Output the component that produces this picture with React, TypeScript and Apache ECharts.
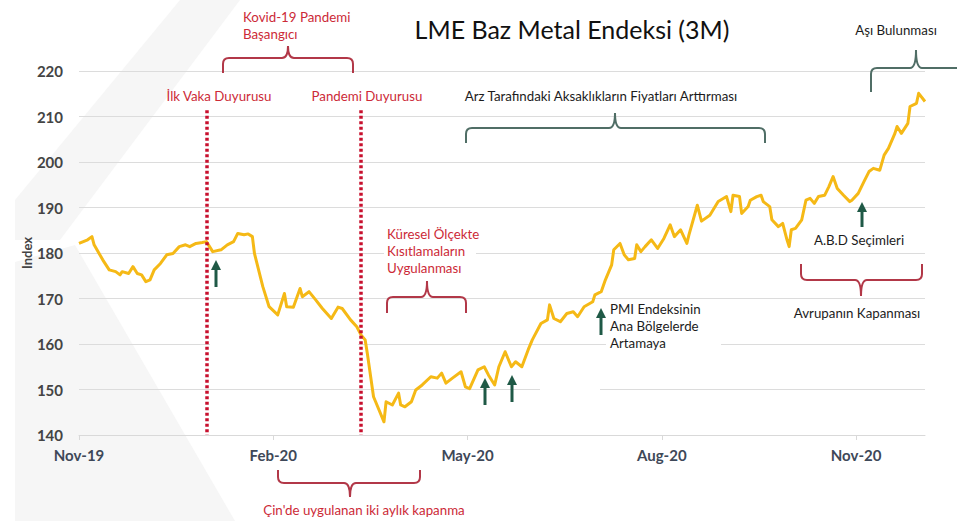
import React, { useEffect, useRef } from "react";
import * as echarts from "echarts";

// ---- Data ----
const dates: string[] = [
  "2019-11-01","2019-11-05","2019-11-07","2019-11-08","2019-11-12","2019-11-15","2019-11-18","2019-11-20","2019-11-21","2019-11-24","2019-11-26","2019-11-28","2019-11-30",
  "2019-12-02","2019-12-04","2019-12-06","2019-12-09","2019-12-12","2019-12-15","2019-12-18","2019-12-21","2019-12-23","2019-12-26","2019-12-29","2019-12-31",
  "2020-01-03","2020-01-07","2020-01-10","2020-01-13","2020-01-15","2020-01-18","2020-01-20","2020-01-22","2020-01-23","2020-01-26","2020-01-27","2020-01-30",
  "2020-02-03","2020-02-06","2020-02-07","2020-02-10","2020-02-13","2020-02-14","2020-02-17","2020-02-20","2020-02-23","2020-02-27",
  "2020-03-01","2020-03-03","2020-03-07","2020-03-10","2020-03-12","2020-03-14","2020-03-15","2020-03-18","2020-03-19","2020-03-23","2020-03-24","2020-03-27","2020-03-30","2020-03-31",
  "2020-04-02","2020-04-05","2020-04-07","2020-04-10","2020-04-14","2020-04-17","2020-04-19","2020-04-21","2020-04-24","2020-04-28","2020-04-30",
  "2020-05-02","2020-05-06","2020-05-09","2020-05-11","2020-05-14","2020-05-16","2020-05-19","2020-05-22","2020-05-24","2020-05-27","2020-05-30",
  "2020-06-01","2020-06-05","2020-06-08","2020-06-09","2020-06-11","2020-06-14","2020-06-17","2020-06-20","2020-06-22","2020-06-25","2020-06-29","2020-06-30",
  "2020-07-03","2020-07-05","2020-07-08","2020-07-09","2020-07-12","2020-07-14","2020-07-16","2020-07-19","2020-07-20","2020-07-22","2020-07-24","2020-07-27","2020-07-30",
  "2020-08-02","2020-08-05","2020-08-07","2020-08-10","2020-08-13","2020-08-14","2020-08-18","2020-08-20","2020-08-24","2020-08-28",
  "2020-09-01","2020-09-03","2020-09-04","2020-09-07","2020-09-08","2020-09-11","2020-09-12","2020-09-15","2020-09-17","2020-09-18","2020-09-21","2020-09-22","2020-09-25","2020-09-27","2020-09-29","2020-09-30",
  "2020-10-01","2020-10-03","2020-10-06","2020-10-08","2020-10-10","2020-10-12","2020-10-14","2020-10-17","2020-10-19","2020-10-21","2020-10-23","2020-10-26","2020-10-29","2020-10-30",
  "2020-11-02","2020-11-05","2020-11-07","2020-11-09","2020-11-12","2020-11-14","2020-11-16","2020-11-19","2020-11-20","2020-11-22","2020-11-25","2020-11-26","2020-11-29","2020-11-30",
  "2020-12-03",
];

const indexValues: number[] = [
  182.1,182.9,183.6,181.8,178.5,176.3,175.9,175.2,175.9,175.5,177.0,175.5,175.2,
  173.7,174.1,176.3,177.7,179.6,179.9,181.4,181.8,181.4,182.1,182.3,182.5,
  180.3,180.7,181.8,182.5,184.3,184.0,184.2,183.6,179.9,174.4,172.6,168.2,
  166.4,171.1,168.2,168.1,172.2,170.4,171.5,169.7,167.8,165.6,
  168.1,167.8,165.3,163.8,162.0,160.9,158.0,148.4,147.3,142.9,147.3,146.6,149.2,146.6,
  146.2,147.3,149.9,151.0,152.8,152.5,153.6,151.4,152.5,153.9,150.6,
  150.2,154.3,155.0,153.2,151.0,155.0,158.3,155.0,156.1,155.0,158.7,
  160.9,164.5,165.3,168.6,165.6,164.9,166.7,167.1,166.0,168.2,169.3,170.8,
  171.5,174.1,177.4,180.7,182.1,179.6,178.5,178.8,181.8,180.3,181.4,182.9,181.0,
  183.2,186.2,183.6,185.1,182.1,184.0,190.5,187.0,188.3,191.3,
  192.4,189.1,192.7,192.4,188.7,190.2,191.6,192.4,192.7,191.3,190.2,187.3,185.8,186.5,182.9,181.4,
  185.1,185.4,187.3,191.6,192.0,190.9,192.4,192.7,194.6,196.8,194.2,192.7,191.3,191.6,
  193.1,196.0,197.9,198.6,198.2,201.5,203.0,206.3,207.8,206.3,208.5,212.2,212.9,215.1,
  213.3,
];

const xTickLabels: string[] = ["Nov-19", "Feb-20", "May-20", "Aug-20", "Nov-20"];
const xTickDates: string[] = ["2019-11-01", "2020-02-01", "2020-05-01", "2020-08-01", "2020-11-01"];
const yMin = 140;
const yMax = 220;
const yStep = 10;

// event markers (dotted red lines)
const eventDates: string[] = ["2019-12-31", "2020-03-12"];
const eventTop = 211.4;

// position on x axis in "months since Nov 2019"
function dateToX(d: string): number {
  const [y, m, day] = d.split("-").map(Number);
  const monthIdx = (y - 2019) * 12 + (m - 1) - 10;
  const dim = new Date(y, m, 0).getDate();
  return monthIdx + (day - 1) / dim;
}

const RED_TEXT = "#cc2a37";
const RED_BRACE = "#b23848";
const DARK_TEXT = "#1c1c1c";
const GREEN_BRACE = "#506e66";
const ARROW = "#1f5946";
const FONT = "Lato, 'Noto Sans', sans-serif";

function braceD(L: number, R: number, mid: number, barY: number, tipY: number, endY: number, r = 6): string {
  const s = Math.sign(endY - barY);
  return [
    `M ${L} ${endY}`,
    `L ${L} ${barY + s * r}`,
    `Q ${L} ${barY} ${L + r} ${barY}`,
    `L ${mid - r} ${barY}`,
    `Q ${mid} ${barY} ${mid} ${tipY}`,
    `Q ${mid} ${barY} ${mid + r} ${barY}`,
    `L ${R - r} ${barY}`,
    `Q ${R} ${barY} ${R} ${barY + s * r}`,
    `L ${R} ${endY}`,
  ].join(" ");
}

const braces = [
  { name: "braceKovid", d: braceD(223, 353, 288, 58, 46, 73), color: RED_BRACE },
  { name: "braceArz", d: braceD(466, 765, 615, 128, 113, 143), color: GREEN_BRACE },
  { name: "braceAsi", d: braceD(871, 1010, 916, 68, 50, 92), color: GREEN_BRACE },
  { name: "braceKuresel", d: braceD(387, 466, 427, 297, 281, 313), color: RED_BRACE },
  { name: "braceCin", d: braceD(278, 420, 350, 483, 497, 470), color: RED_BRACE },
  { name: "braceAvrupa", d: braceD(801, 922, 861, 280, 296, 264), color: RED_BRACE },
];

const arrows = [
  { x: 216, top: 260, bottom: 287 },
  { x: 485, top: 378, bottom: 405 },
  { x: 512, top: 375, bottom: 402 },
  { x: 601, top: 308, bottom: 335 },
  { x: 862, top: 202, bottom: 227 },
];

function txt(text: string, x: number, y: number, color: string, align = "center", size = 13.3, extra: any = {}) {
  return {
    type: "text",
    x,
    y,
    z: 20,
    silent: true,
    style: {
      text,
      fill: color,
      fontSize: size,
      fontFamily: FONT,
      align,
      verticalAlign: "middle",
      ...extra,
    },
  };
}

export default function App() {
  const ref = useRef<HTMLDivElement>(null);

  useEffect(() => {
    if (!ref.current) return;
    braces.forEach((b) => {
      echarts.graphic.registerShape(b.name, echarts.graphic.extendPath(b.d, {}));
    });
    const chart = echarts.init(ref.current, undefined, { renderer: "svg" });

    const seriesData = dates.map((d, i) => [dateToX(d), indexValues[i]]);
    const tickPos = xTickDates.map(dateToX);

    const graphic: any[] = [
      // faint watermark
      {
        type: "polygon",
        z: -1,
        silent: true,
        shape: { points: [[180, 0], [240, 0], [60, 240], [15, 240], [15, 200]] },
        style: { fill: "#f6f6f6" },
      },
      {
        type: "polygon",
        z: -1,
        silent: true,
        shape: { points: [[15, 262], [75, 245], [235, 521], [15, 521]] },
        style: { fill: "#f6f6f6" },
      },
      // white boxes behind text blocks (cover gridlines like in the reference)
      { type: "rect", z: 1, silent: true, shape: { x: 384, y: 224, width: 92, height: 54 }, style: { fill: "#fff" } },
      { type: "rect", z: 1, silent: true, shape: { x: 606, y: 300, width: 115, height: 52 }, style: { fill: "#fff" } },
      { type: "rect", z: 1, silent: true, shape: { x: 210, y: 340, width: 148, height: 8 }, style: { fill: "#fff" } },
      { type: "rect", z: 1, silent: true, shape: { x: 540, y: 385, width: 60, height: 8 }, style: { fill: "#fff" } },
      // title
      txt("LME Baz Metal Endeksi (3M)", 572, 29, "#111", "center", 25),
      // annotations
      txt("Kovid-19 Pandemi\nBaşangıcı", 243, 25, RED_TEXT, "left", 13.3, { lineHeight: 17 }),
      txt("İlk Vaka Duyurusu", 219, 96, RED_TEXT),
      txt("Pandemi Duyurusu", 367, 96, RED_TEXT),
      txt("Arz Tarafındaki Aksaklıkların Fiyatları Arttırması", 601, 96, DARK_TEXT),
      txt("Aşı Bulunması", 896, 30, DARK_TEXT),
      txt("Küresel Ölçekte\nKısıtlamaların\nUygulanması", 387, 251, RED_TEXT, "left", 13.3, { lineHeight: 17 }),
      txt("A.B.D Seçimleri", 859, 240, DARK_TEXT),
      txt("Avrupanın Kapanması", 857, 313, DARK_TEXT),
      txt("PMI Endeksinin\nAna Bölgelerde\nArtamaya", 610, 326, DARK_TEXT, "left", 13.3, { lineHeight: 17 }),
      txt("Çin'de uygulanan iki aylık kapanma", 364, 510, RED_TEXT),
    ];

    braces.forEach((b) => {
      graphic.push({
        type: b.name,
        x: 0,
        y: 0,
        z: 15,
        silent: true,
        style: { fill: "none", stroke: b.color, lineWidth: 2 },
      });
    });

    arrows.forEach((a) => {
      graphic.push({
        type: "polygon",
        z: 15,
        silent: true,
        shape: { points: [[a.x - 5, a.top + 10], [a.x, a.top], [a.x + 5, a.top + 10]] },
        style: { fill: ARROW },
      });
      graphic.push({
        type: "rect",
        z: 15,
        silent: true,
        shape: { x: a.x - 1.5, y: a.top + 9, width: 3, height: a.bottom - a.top - 9 },
        style: { fill: ARROW },
      });
    });

    const option: any = {
      animation: false,
      backgroundColor: "#ffffff",
      grid: { left: 79, right: 32, top: 71, bottom: 86 },
      xAxis: {
        type: "value",
        min: 0,
        max: dateToX(dates[dates.length - 1]),
        axisLine: { show: true, lineStyle: { color: "#d9d9d9", width: 1 } },
        axisTick: { show: true, customValues: tickPos, length: 5, lineStyle: { color: "#d9d9d9" } },
        axisLabel: {
          customValues: tickPos,
          formatter: (v: number) => {
            const i = tickPos.findIndex((t) => Math.abs(t - v) < 1e-6);
            return i >= 0 ? xTickLabels[i] : "";
          },
          color: "#3e4858",
          fontSize: 15,
          fontWeight: "bold",
          fontFamily: FONT,
          margin: 12,
        },
        splitLine: { show: false },
      },
      yAxis: {
        type: "value",
        min: yMin,
        max: yMax,
        interval: yStep,
        name: "Index",
        nameLocation: "middle",
        nameGap: 46,
        nameMoveOverlap: false,
        nameTextStyle: { fontSize: 13, color: "#444", fontWeight: "bold", fontFamily: FONT },
        axisLine: { show: false },
        axisTick: { show: false },
        splitLine: { lineStyle: { color: "#dcdcdc", width: 1 } },
        axisLabel: { color: "#444", fontSize: 15, fontWeight: "bold", fontFamily: FONT, margin: 16 },
      },
      series: [
        {
          type: "line",
          data: seriesData,
          showSymbol: false,
          symbol: "none",
          z: 3,
          lineStyle: { color: "#F5B916", width: 3, join: "round" },
          markLine: {
            silent: true,
            symbol: ["none", "none"],
            label: { show: false },
            lineStyle: { color: "#c8102e", width: 3.5, type: [3, 2.5] },
            emphasis: { disabled: true },
            data: eventDates.map((d) => [
              { coord: [dateToX(d), eventTop] },
              { coord: [dateToX(d), yMin] },
            ]),
          },
        },
      ],
      graphic,
    };

    chart.setOption(option);
    return () => chart.dispose();
  }, []);

  return (
    <div
      ref={ref}
      style={{ position: "absolute", left: 0, top: 0, width: 957, height: 521 }}
    />
  );
}
